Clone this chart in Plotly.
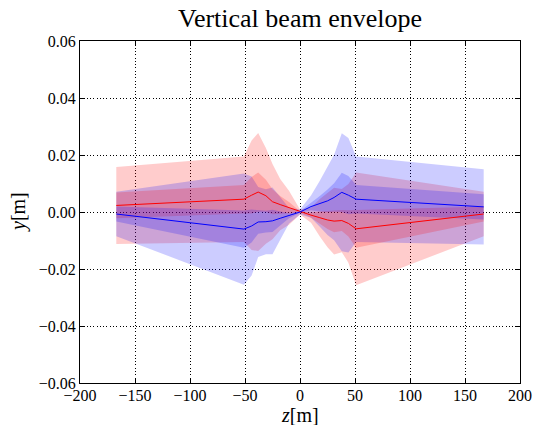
import plotly.graph_objects as go

# Positions along the beam line [m]
z = [-167, -51, -44, -38, -31, -25, -18, -10, 0, 10, 18, 25, 31, 38, 44, 51, 167]

# Red beam: centroid and rms size [m]
red_c = [0.0023, 0.0045, 0.0059, 0.0070, 0.0057, 0.0036, 0.0026, 0.0015, 0.0,
         -0.0011, -0.0020, -0.0028, -0.0032, -0.0030, -0.0040, -0.0059, -0.0007]
red_s = [0.0045, 0.0050, 0.0064, 0.0069, 0.0056, 0.0044, 0.0030, 0.0020, 0.0003,
         0.0009, 0.0022, 0.0032, 0.0039, 0.0037, 0.0046, 0.0066, 0.0026]

# Blue beam: centroid and rms size [m]
blue_c = [-0.0007, -0.0060, -0.0049, -0.0035, -0.0034, -0.0031, -0.0022, -0.0013, 0.0,
          0.0019, 0.0029, 0.0039, 0.0051, 0.0069, 0.0059, 0.0045, 0.0018]
blue_s = [0.0026, 0.0065, 0.0058, 0.0041, 0.0038, 0.0039, 0.0025, 0.0009, 0.0003,
          0.0013, 0.0027, 0.0040, 0.0050, 0.0069, 0.0067, 0.0050, 0.0044]

x_ticks = [-200, -150, -100, -50, 0, 50, 100, 150, 200]
y_ticks = [-0.06, -0.04, -0.02, 0.00, 0.02, 0.04, 0.06]

fig = go.Figure()


def band(c, s, k, rgba):
    up = [ci + k * si for ci, si in zip(c, s)]
    lo = [ci - k * si for ci, si in zip(c, s)]
    fig.add_trace(go.Scatter(
        x=z + z[::-1], y=up + lo[::-1], fill="toself", fillcolor=rgba,
        mode="lines", line=dict(width=0), hoverinfo="skip", showlegend=False))


band(red_c, red_s, 3, "rgba(255,0,0,0.2)")
band(blue_c, blue_s, 3, "rgba(0,0,255,0.2)")
band(red_c, red_s, 1, "rgba(255,0,0,0.2)")
band(blue_c, blue_s, 1, "rgba(0,0,255,0.2)")

fig.add_trace(go.Scatter(x=z, y=red_c, mode="lines",
                         line=dict(color="#ff0000", width=1), showlegend=False))
fig.add_trace(go.Scatter(x=z, y=blue_c, mode="lines",
                         line=dict(color="#0000ff", width=1), showlegend=False))

font_family = "Liberation Serif"
axis_common = dict(
    showline=True, linecolor="black", linewidth=1, mirror="ticks",
    ticks="inside", ticklen=5, tickcolor="black", tickwidth=1,
    showgrid=True, gridcolor="black", gridwidth=1, griddash="1px,2.3px",
    zeroline=False, automargin=False,
    tickfont=dict(family=font_family, size=16, color="black"),
)

fig.update_xaxes(range=[-200, 200], tickvals=x_ticks,
                 ticktext=[("\u2212" + str(-v)) if v < 0 else str(v) for v in x_ticks],
                 ticklabelstandoff=-2,
                 **axis_common)
fig.update_yaxes(range=[-0.06, 0.06], tickvals=y_ticks,
                 ticktext=[("\u2212%.2f" % (-v)) if v < 0 else "%.2f" % v for v in y_ticks],
                 **axis_common)

fig.update_layout(
    width=537, height=425,
    margin=dict(l=80, r=17, t=41, b=42),
    paper_bgcolor="white", plot_bgcolor="white",
    title=dict(text="Vertical beam envelope", x=0.5, xref="paper",
               y=1 - 18 / 425, yref="container", yanchor="middle", xanchor="center",
               font=dict(family=font_family, size=26, color="black")),
    annotations=[
        dict(text="<i>z</i>[m]", xref="paper", yref="paper", x=0.5, y=-32 / 342,
             xanchor="center", yanchor="middle", showarrow=False,
             font=dict(family=font_family, size=20, color="black")),
        dict(text="<i>y</i>[m]", xref="paper", yref="paper", x=-62 / 440, y=0.5,
             xanchor="center", yanchor="middle", showarrow=False, textangle=-90,
             font=dict(family=font_family, size=20, color="black")),
    ],
)

fig.write_html("out.html", config={"displayModeBar": False},
               post_script="document.body.style.margin='0px';document.body.style.padding='0px';")
